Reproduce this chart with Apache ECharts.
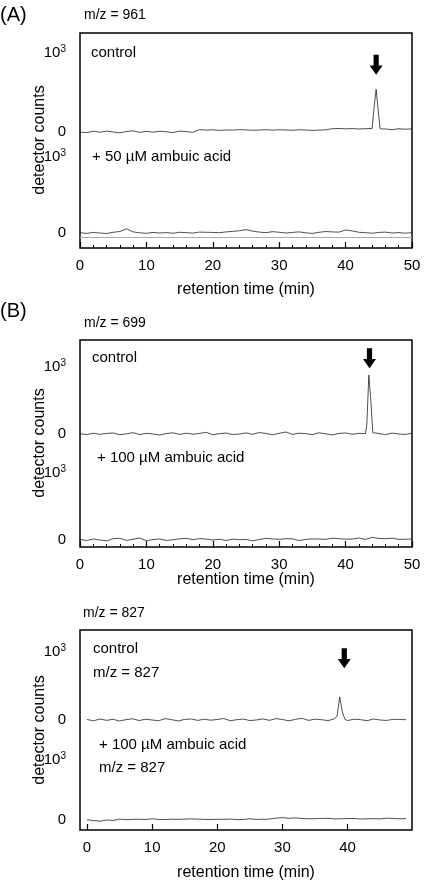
<!DOCTYPE html>
<html><head><meta charset="utf-8">
<script src="https://cdn.jsdelivr.net/npm/echarts@6/dist/echarts.min.js"></script>
<style>html,body{margin:0;padding:0;background:#fff}#c{width:428px;height:882px}</style>
</head><body><div id="c"></div>
<script>
// ---- data ----
const xTicks = [0,10,20,30,40,50];
const yTicks = [0,1000];
const tA = [0,1,2,3,4,5,6,7,8,9,10,11,12,13,14,15,16,17,18,19,20,21,22,23,24,25,26,27,28,29,30,31,32,33,34,35,36,37,38,39,40,41,42,43,44,44.3,44.6,44.9,45.2,46,47,48,49,50];
const aControl = [0,-8,10,-3,12,0,-10,6,15,-5,8,-2,10,3,-7,12,5,-4,30,24,28,20,26,24,30,27,22,25,30,24,28,26,22,29,25,20,24,28,42,45,40,44,38,42,45,320,540,280,40,38,30,42,35,40];
const tFull = [0,1,2,3,4,5,6,7,8,9,10,11,12,13,14,15,16,17,18,19,20,21,22,23,24,25,26,27,28,29,30,31,32,33,34,35,36,37,38,39,40,41,42,43,44,45,46,47,48,49,50];
const aTreated = [5,-5,8,0,-6,10,20,55,15,3,-4,8,0,6,-3,10,5,0,12,10,8,4,15,22,30,45,25,12,5,18,10,0,8,15,3,-5,10,20,15,12,40,28,10,5,-3,8,12,0,6,-2,5];
const aRef = [-55];
const tB = [0,1,2,3,4,5,6,7,8,9,10,11,12,13,14,15,16,17,18,19,20,21,22,23,24,25,26,27,28,29,30,31,32,33,34,35,36,37,38,39,40,41,42,43,43.2,43.5,43.8,44.1,45,46,47,48,49,50];
const bControl = [5,-10,12,-5,8,15,-12,3,20,-8,10,0,-15,7,18,-6,12,-3,9,25,-10,5,14,-8,0,16,-5,22,8,-12,10,30,-6,12,5,-9,18,2,-14,9,15,-4,10,6,150,880,500,20,8,-10,14,0,-6,10];
const bTreated = [10,-8,15,0,-12,20,25,-6,12,30,-10,8,15,-5,3,18,25,6,20,15,0,12,-8,15,5,10,-12,8,25,15,12,20,18,-8,10,16,15,10,28,20,12,15,30,10,40,24,20,28,10,12,15];
const tC = [0,1,2,3,4,5,6,7,8,9,10,11,12,13,14,15,16,17,18,19,20,21,22,23,24,25,26,27,28,29,30,31,32,33,34,35,36,37,38,38.4,38.8,39.2,39.6,40,41,42,43,44,45,46,47,48,49];
const cControl = [8,-12,15,-5,10,-15,6,18,-8,12,0,-10,20,5,-14,9,15,-6,12,-3,8,22,-10,5,14,-8,0,16,-5,20,8,-12,10,25,-6,12,5,-9,18,60,340,120,10,-8,12,5,-10,15,0,-6,10,8,5];
const cTreated = [5,-10,-20,0,-8,15,5,10,12,8,20,10,6,14,10,15,18,14,10,8,12,10,15,6,8,20,10,12,15,30,40,28,35,25,20,22,25,28,18,20,24,25,16,20,22,18,30,25,20,24];
const arrows = [[44.6,850],[43.6,1130],[39.5,910]];

// ---- chart ----
const FONT = 'Liberation Sans, Arial, sans-serif';
const arrowPath = 'path://M3,0 L7,0 L7,7 L10,7 L5,13 L0,7 L3,7 Z';
const panels = [
  {top:33,bot:248,mid:143,xmin:0,xmax:50,up:[-139,1253],lo:[-197,1185],t:tA,c:aControl,tt:tFull,tr:aTreated,ref:aRef,minor:true},
  {top:340,bot:547,mid:447,xmin:0,xmax:50,up:[-194,1403],lo:[-104,1389],t:tB,c:bControl,tt:tFull,tr:bTreated,minor:true},
  {top:630,bot:830,mid:733,xmin:-1.08,xmax:49.9,up:[-191,1324],lo:[-167,1450],t:tC,c:cControl,tt:tFull.slice(0,50),tr:cTreated,minor:false}
];
const grid=[], xAxis=[], yAxis=[], series=[];
panels.forEach((p,i)=>{
  const g0=grid.length;
  grid.push({left:80,width:332,top:p.top,height:p.bot-p.top,show:true,borderColor:'#000',borderWidth:1.5,backgroundColor:'transparent'});
  grid.push({left:80,width:332,top:p.top,height:p.mid-p.top});
  grid.push({left:80,width:332,top:p.mid,height:p.bot-p.mid});
  const xa={gridIndex:g0,type:'value',min:p.xmin,max:p.xmax,splitLine:{show:false},axisLine:{show:false},
    axisLabel:{color:'#000',fontSize:15,fontFamily:FONT,margin:10}};
  if(p.minor){
    xa.interval=10;
    xa.axisTick={inside:true,length:6,lineStyle:{color:'#000',width:1.2}};
    xa.minorTick={show:true,splitNumber:5,length:3,lineStyle:{color:'#000'}};
  } else {
    xa.axisTick={customValues:xTicks,inside:true,length:6,lineStyle:{color:'#000',width:1.2}};
    xa.axisLabel.customValues=xTicks;
  }
  xAxis.push(xa);
  yAxis.push({gridIndex:g0,type:'value',show:false,min:0,max:1});
  [1,2].forEach(k=>{
    const r = k===1?p.up:p.lo;
    xAxis.push({gridIndex:g0+k,type:'value',min:p.xmin,max:p.xmax,show:false});
    yAxis.push({gridIndex:g0+k,type:'value',min:r[0],max:r[1],splitLine:{show:false},
      axisLine:{show:false},axisTick:{show:false},
      axisLabel:{customValues:yTicks,color:'#000',fontSize:15,fontFamily:FONT,margin:14,
        formatter:v=>v===0?'0':'10{s|3}',rich:{s:{fontSize:10,verticalAlign:'top',padding:[0,0,8,0],fontFamily:FONT}}}});
  });
  const ax=xAxis.length;
  series.push({type:'line',xAxisIndex:ax-2,yAxisIndex:ax-2,data:p.t.map((x,j)=>[x,p.c[j]]),
    symbol:'none',lineStyle:{color:'#222',width:0.8},
    markPoint:{symbol:arrowPath,symbolSize:[13,20],silent:true,label:{show:false},itemStyle:{color:'#000'},
      data:[{coord:arrows[i]}]}});
  const s2={type:'line',xAxisIndex:ax-1,yAxisIndex:ax-1,data:p.tt.map((x,j)=>[x,p.tr[j]]),
    symbol:'none',lineStyle:{color:'#222',width:0.8}};
  if(p.ref) s2.markLine={symbol:'none',silent:true,label:{show:false},lineStyle:{color:'#aaa',width:1,type:'solid'},data:[{yAxis:p.ref[0]}]};
  series.push(s2);
});
const txt=(x,y,s,fs,align)=>({type:'text',x:x,y:y,style:{text:s,fontSize:fs||15,fontFamily:FONT,fill:'#000',align:align||'left',verticalAlign:'middle'}});
const rot=(y)=>({type:'text',x:40,y:y,rotation:Math.PI/2,style:{text:'detector counts',fontSize:16,fontFamily:FONT,fill:'#000',align:'center',verticalAlign:'middle'}});
const graphic=[
  txt(0,15,'(A)',20), txt(84,15,'m/z = 961',14), txt(91,53,'control'), txt(92,157,'+ 50 µM ambuic acid'),
  rot(140), txt(246,290,'retention time (min)',16,'center'),
  txt(0,311,'(B)',20), txt(84,323,'m/z = 699',14), txt(92,358,'control'), txt(97,458,'+ 100 µM ambuic acid'),
  rot(443), txt(246,580,'retention time (min)',16,'center'),
  txt(83,613,'m/z = 827',14), txt(93,649,'control'), txt(93,673,'m/z = 827'),
  txt(99,745,'+ 100 µM ambuic acid'), txt(99,768,'m/z = 827'),
  rot(730), txt(246,873,'retention time (min)',16,'center')
];
const chart=echarts.init(document.getElementById('c'),null,{renderer:'canvas'});
chart.setOption({animation:false,backgroundColor:'#fff',grid,xAxis,yAxis,series,graphic});
</script></body></html>
